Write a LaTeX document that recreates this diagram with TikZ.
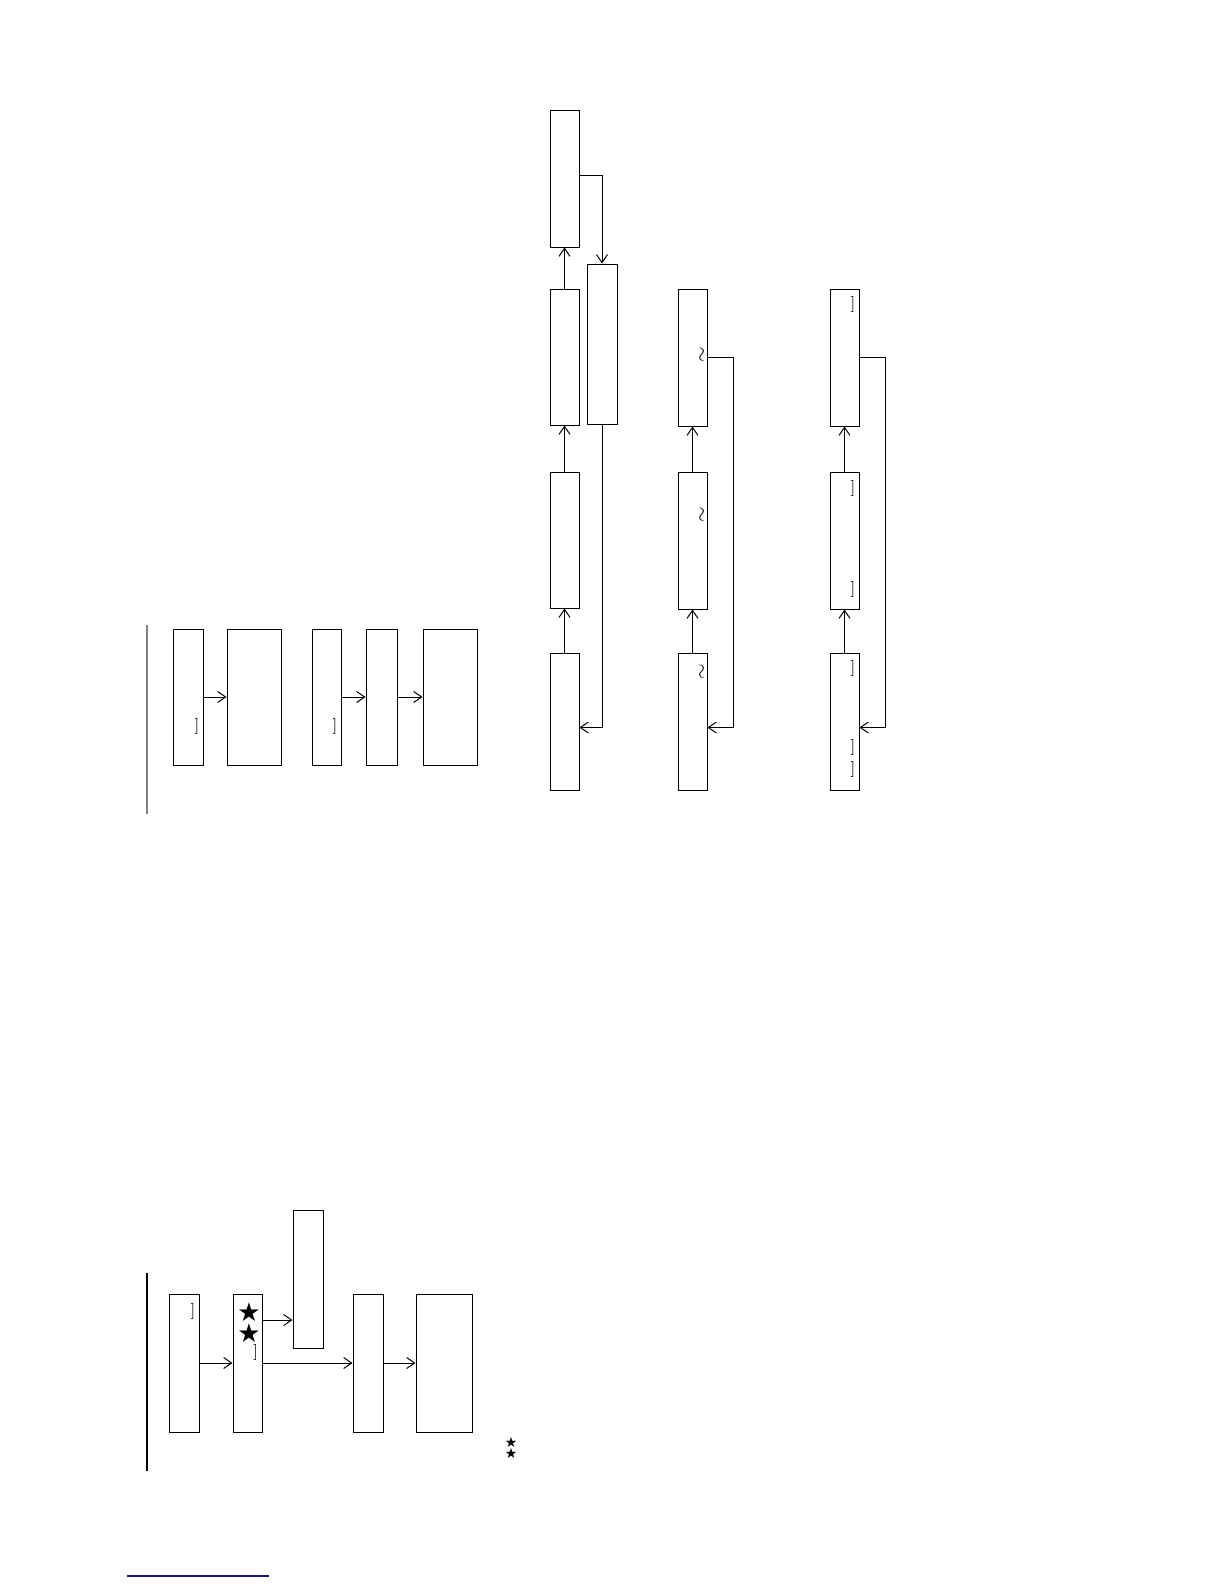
\documentclass[tikz,border=0pt]{standalone}
\usepackage{fontspec}
\usetikzlibrary{arrows.meta}
\newfontfamily\dejavu{DejaVu Sans}
\newcommand{\brk}{\fontsize{8}{9}\selectfont ]}
\newcommand{\twist}{\fontsize{10}{10}\selectfont $\sim$}
\tikzset{
  box/.style 2 args={draw, inner sep=0pt, minimum width=#1, minimum height=#2},
  glyph/.style={inner sep=0pt},
  >={Straight Barb[length=4bp,width=5.5bp]},
}

\begin{document}
\begin{tikzpicture}[x=0.5bp, y=-0.5bp, line width=0.5bp]
    \useasboundingbox (0,0) rectangle (1224,1584);
    % upper left group
    \draw[gray, line width=0.8bp] (147,625) -- (147,814);
    \node[box={15bp}{68bp}] (A) at (188,697) {};
    \node[box={27bp}{68bp}] (B) at (254,697) {};
    \node[box={14.5bp}{68bp}] (C) at (326.5,697) {};
    \node[box={15.5bp}{68bp}] (D) at (381.5,697) {};
    \node[box={27bp}{68bp}] (E) at (450,697) {};
    \node[glyph] (a1) at (197,726.5) {\brk};
    \node[glyph] (c1) at (335,726.5) {\brk};
    \draw[->] (A) -- (B);
    \draw[->] (C) -- (D);
    \draw[->] (D) -- (E);
    % first column
    \node[box={14.5bp}{68.5bp}] (T1) at (564.5,178.5) {};
    \node[box={14.5bp}{68bp}] (T2) at (564.5,357) {};
    \node[box={14.5bp}{68bp}] (T3) at (564.5,540) {};
    \node[box={14.5bp}{68.5bp}] (T4) at (564.5,721.5) {};
    \node[box={15bp}{80bp}] (S) at (602,344) {};
    \draw[->] (T4) -- (T3);
    \draw[->] (T3) -- (T2);
    \draw[->] (T2) -- (T1);
    \draw[->] ([yshift=1.5bp]T1.east) -| (S.north);
    \draw[->] (S.south) |- ([yshift=-3bp]T4.east);
    % second column
    \node[box={14.5bp}{68.5bp}] (U1) at (692.5,357.5) {};
    \node[box={14.5bp}{68.5bp}] (U2) at (692.5,540.5) {};
    \node[box={14.5bp}{68.5bp}] (U3) at (692.5,721.5) {};
    \node[glyph, rotate=90] (u1) at (703,355) {\twist};
    \node[glyph, rotate=90] (u2) at (703,515) {\twist};
    \node[glyph, rotate=90] (u3) at (703,672) {\twist};
    \draw[->] (U3) -- (U2);
    \draw[->] (U2) -- (U1);
    \draw[->] (U1.east) -- ++(13bp,0) |- ([yshift=-3bp]U3.east);
    % third column
    \node[box={14.5bp}{68.5bp}] (V1) at (844.5,357.5) {};
    \node[box={14.5bp}{68.5bp}] (V2) at (844.5,540.5) {};
    \node[box={14.5bp}{68.5bp}] (V3) at (844.5,721.5) {};
    \node[glyph] (v1) at (853,304.5) {\brk};
    \node[glyph] (v2) at (853,488.5) {\brk};
    \node[glyph] (v3) at (853,589.5) {\brk};
    \node[glyph] (v4) at (853,669) {\brk};
    \node[glyph] (v5) at (853,748) {\brk};
    \node[glyph] (v6) at (853,770) {\brk};
    \draw[->] (V3) -- (V2);
    \draw[->] (V2) -- (V1);
    \draw[->] (V1.east) -- ++(13bp,0) |- ([yshift=-3bp]V3.east);
    % lower group
    \draw[line width=0.8bp] (147,1273) -- (147,1471);
    \node[box={15bp}{69bp}] (W1) at (184,1363) {};
    \node[box={14.5bp}{69bp}] (W2) at (247.5,1363) {};
    \node[box={15bp}{69bp}] (W3) at (308,1279) {};
    \node[box={15bp}{69bp}] (W4) at (368,1363) {};
    \node[box={28bp}{69bp}] (W5) at (444,1363) {};
    \node[glyph] (w1) at (193,1311) {\brk};
    \node[glyph] (w2) at (249,1312) {\dejavu\fontsize{13}{13}\selectfont ★};
    \node[glyph] (w3) at (249,1333) {\dejavu\fontsize{13}{13}\selectfont ★};
    \node[glyph] (w4) at (255.7,1352) {\brk};
    \coordinate (w23) at ([yshift=-20.5bp]W3.west);
    \draw[->] (W1) -- (W2);
    \draw[->] (w23 -| W2.east) -- (w23);
    \draw[->] (W2) -- (W4);
    \draw[->] (W4) -- (W5);
    \node[glyph] (s1) at (511,1442) {\dejavu\fontsize{7}{7}\selectfont ★};
    \node[glyph] (s2) at (511,1453) {\dejavu\fontsize{7}{7}\selectfont ★};
    % footnote rule
    \draw[color={rgb,255:red,20;green,20;blue,140}, line width=0.8bp] (127,1576) -- (269,1576);
\end{tikzpicture}
\end{document}
